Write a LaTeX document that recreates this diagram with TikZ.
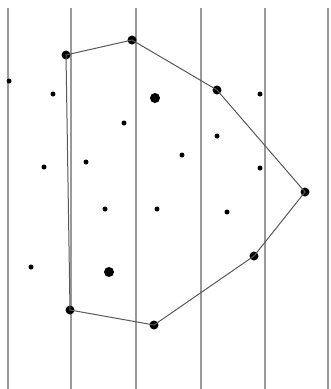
\documentclass[tikz,border=0pt]{standalone}
\begin{document}
\begin{tikzpicture}[x=1pt,y=-1pt,
  vline/.style={draw=black!40, line width=2pt},
  hull/.style={draw=black!65, line width=1pt},
  vert/.style={circle, fill=black, inner sep=0pt, minimum size=9pt},
  big/.style={circle, fill=black, inner sep=0pt, minimum size=10pt},
  small/.style={circle, fill=black, inner sep=0pt, minimum size=5pt}]
\useasboundingbox (0,0) rectangle (330,389);
\fill[white] (0,0) rectangle (330,389);
% vertical lines
\foreach \x/\n in {8/l1,71/l2,136/l3,201/l4,265/l5,328/l6} {
  \coordinate (\n t) at (\x,8);
  \coordinate (\n b) at (\x,389);
  \draw[vline] (\n t) -- (\n b);
}
% hull vertices
\node[vert] (h1) at (66,55) {};
\node[vert] (h2) at (132,40) {};
\node[vert] (h3) at (217,90) {};
\node[vert] (h4) at (305,192) {};
\node[vert] (h5) at (254,256) {};
\node[vert] (h6) at (154,325) {};
\node[vert] (h7) at (70,310) {};
\draw[hull] (h1.center) -- (h2.center) -- (h3.center) -- (h4.center) -- (h5.center) -- (h6.center) -- (h7.center) -- cycle;
% interior points
\node[big] (b1) at (155,98) {};
\node[big] (b2) at (109,272) {};
\node[small] (s1) at (9,81) {};
\node[small] (s2) at (53,94) {};
\node[small] (s3) at (124,123) {};
\node[small] (s4) at (260,94) {};
\node[small] (s5) at (217,136) {};
\node[small] (s6) at (44,167) {};
\node[small] (s7) at (86,162) {};
\node[small] (s8) at (182,155) {};
\node[small] (s9) at (260,168) {};
\node[small] (s10) at (105,209) {};
\node[small] (s11) at (157,209) {};
\node[small] (s12) at (227,212) {};
\node[small] (s13) at (31,267) {};
\end{tikzpicture}
\end{document}
